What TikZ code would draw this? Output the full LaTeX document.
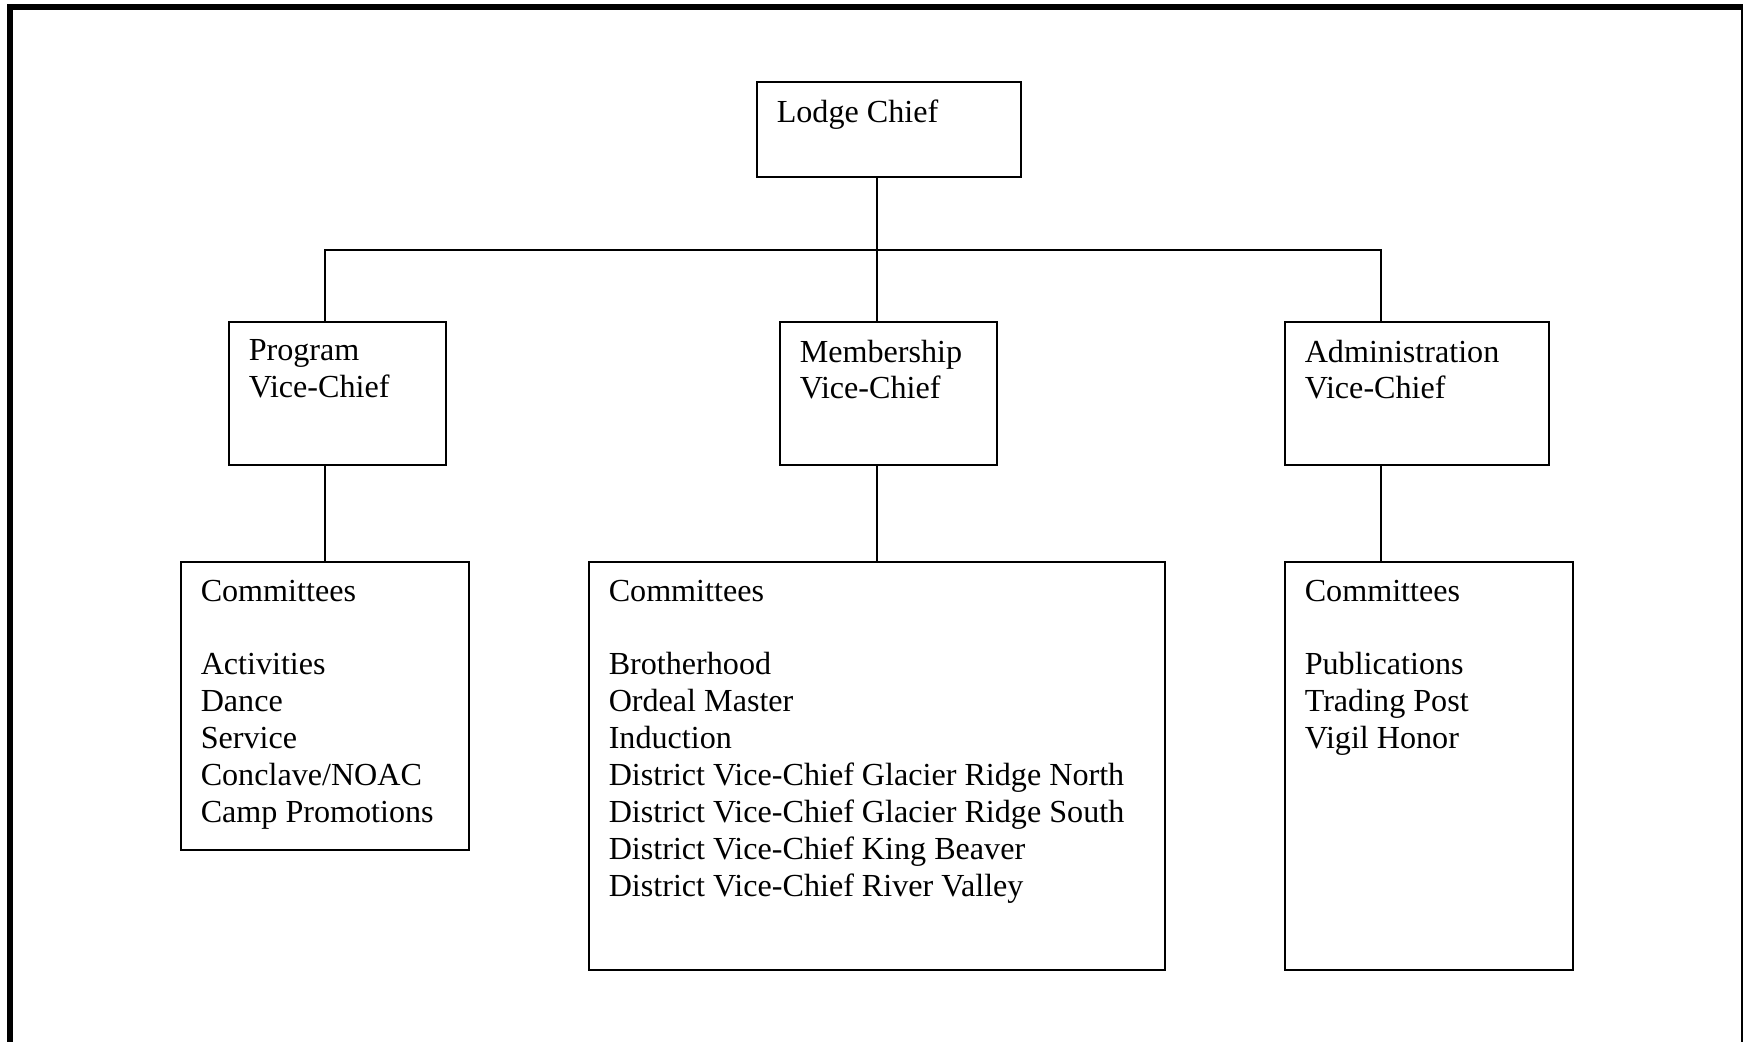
\documentclass[tikz,border=0pt]{standalone}
\usepackage{fontspec}
\setmainfont{Liberation Serif}
\usetikzlibrary{fit}

\begin{document}
\begin{tikzpicture}[x=0.4pt,y=-0.4pt,line width=0.8pt,
  orgbox/.style={draw,line width=1pt,inner sep=0pt},
  orgtext/.style={anchor=north west,align=left,inner sep=0pt,font=\fontsize{12.85}{14.75}\selectfont}]
  \useasboundingbox (0,0) rectangle (1743,1041);
  \clip (0,0) rectangle (1743,1041);
  % outer frame
  \draw[line width=2.4pt] (10,1080) |- (1744,7) -- (1744,1080);
  % boxes
  \node[orgbox,fit={(757,82) (1021,177)}] (lc) {};
  \node[orgbox,fit={(229,322) (446,465)}] (pvc) {};
  \node[orgbox,fit={(780,322) (997,465)}] (mvc) {};
  \node[orgbox,fit={(1285,322) (1549,465)}] (avc) {};
  \node[orgbox,fit={(181,562) (469,850)}] (pcom) {};
  \node[orgbox,fit={(589,562) (1165,970)}] (mcom) {};
  \node[orgbox,fit={(1285,562) (1573,970)}] (acom) {};
  % texts
  \node[orgtext] (lc-t) at ([shift={(20,18)}]lc.north west) {Lodge Chief};
  \node[orgtext] (pvc-t) at ([shift={(20,18)}]pvc.north west) {Program\\Vice-Chief};
  \node[orgtext] (mvc-t) at ([shift={(20,18)}]mvc.north west) {Membership\\Vice-Chief};
  \node[orgtext] (avc-t) at ([shift={(20,18)}]avc.north west) {Administration\\Vice-Chief};
  \node[orgtext] (pcom-t) at ([shift={(20,18)}]pcom.north west)
    {Committees\\[14.75pt]Activities\\Dance\\Service\\Conclave/NOAC\\Camp Promotions};
  \node[orgtext] (mcom-t) at ([shift={(20,18)}]mcom.north west)
    {Committees\\[14.75pt]Brotherhood\\Ordeal Master\\Induction\\
     District Vice-Chief Glacier Ridge North\\District Vice-Chief Glacier Ridge South\\
     District Vice-Chief King Beaver\\District Vice-Chief River Valley};
  \node[orgtext] (acom-t) at ([shift={(20,18)}]acom.north west)
    {Committees\\[14.75pt]Publications\\Trading Post\\Vigil Honor};
  % connectors
  \coordinate (jp) at (325,250);
  \coordinate (jm) at (877,250);
  \coordinate (ja) at (1381,250);
  \draw (lc.south -| jm) -- (mvc.north -| jm);
  \draw (pvc.north -| jp) -- (jp) -- (ja) -- (avc.north -| ja);
  \draw (pvc.south -| jp) -- (pcom.north -| jp);
  \draw (mvc.south -| jm) -- (mcom.north -| jm);
  \draw (avc.south -| ja) -- (acom.north -| ja);
\end{tikzpicture}
\end{document}
